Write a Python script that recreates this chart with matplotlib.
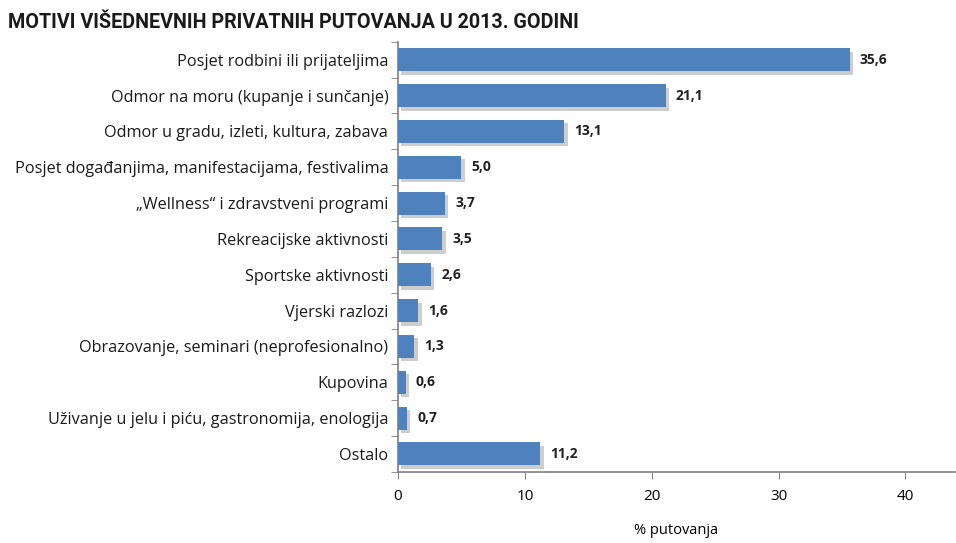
import matplotlib
matplotlib.use("Agg")
from matplotlib import pyplot as plt
from matplotlib import patheffects as pe
import numpy as np

# podaci
kategorije = [
    "Posjet rodbini ili prijateljima",
    "Odmor na moru (kupanje i sunčanje)",
    "Odmor u gradu, izleti, kultura, zabava",
    "Posjet događanjima, manifestacijama, festivalima",
    "\u201eWellness\u201c i zdravstveni programi",
    "Rekreacijske aktivnosti",
    "Sportske aktivnosti",
    "Vjerski razlozi",
    "Obrazovanje, seminari (neprofesionalno)",
    "Kupovina",
    "Uživanje u jelu i piću, gastronomija, enologija",
    "Ostalo",
]
postotci = [35.6, 21.1, 13.1, 5.0, 3.7, 3.5, 2.6, 1.6, 1.3, 0.6, 0.7, 11.2]
x_ticks = [0, 10, 20, 30, 40]

plt.rcParams['font.family'] = ['Open Sans', 'DejaVu Sans']

fig = plt.figure(figsize=(9.56, 5.43), dpi=100)
ax = fig.add_axes([0.4163, 0.131, 0.5826, 0.792])

y = np.arange(len(kategorije))
bars = ax.barh(y, postotci, height=0.64, color="#4F81BD", zorder=3)
for b in bars:
    b.set_path_effects([pe.SimplePatchShadow(offset=(2.5, -2.5), shadow_rgbFace="#b8b8b8", alpha=0.7), pe.Normal()])

for yi, v in zip(y, postotci):
    ax.text(v + 0.8, yi, f"{v:.1f}".replace(".", ","), va="center", ha="left",
            fontsize=10, fontweight="bold", color="#222222")

ax.set_ylim(len(kategorije) - 0.5, -0.5)
ax.set_xlim(0, 43.9)
ax.set_yticks(y)
ax.set_yticklabels(kategorije, fontsize=11.7, color="#1a1a1a")
ax.set_yticks(np.arange(-0.5, len(kategorije)), minor=True)
ax.tick_params(axis="y", which="major", length=0, pad=7)
ax.tick_params(axis="y", which="minor", length=5, color="#808080")
ax.set_xticks(x_ticks)
ax.tick_params(axis="x", length=5, color="#808080", labelsize=11, pad=7)
ax.set_xlabel("% putovanja", fontsize=10.5, labelpad=14)

for s in ["top", "right"]:
    ax.spines[s].set_visible(False)
for s in ["left", "bottom"]:
    ax.spines[s].set_color("#808080")
    ax.spines[s].set_linewidth(1.2)

fig.text(0.008, 0.958, "MOTIVI VIŠEDNEVNIH PRIVATNIH PUTOVANJA U 2013. GODINI",
         fontsize=14.2, fontweight="bold", family=["Roboto", "DejaVu Sans"],
         va="center", ha="left", color="#1a1a1a")

fig.savefig("out.png", dpi=100)
